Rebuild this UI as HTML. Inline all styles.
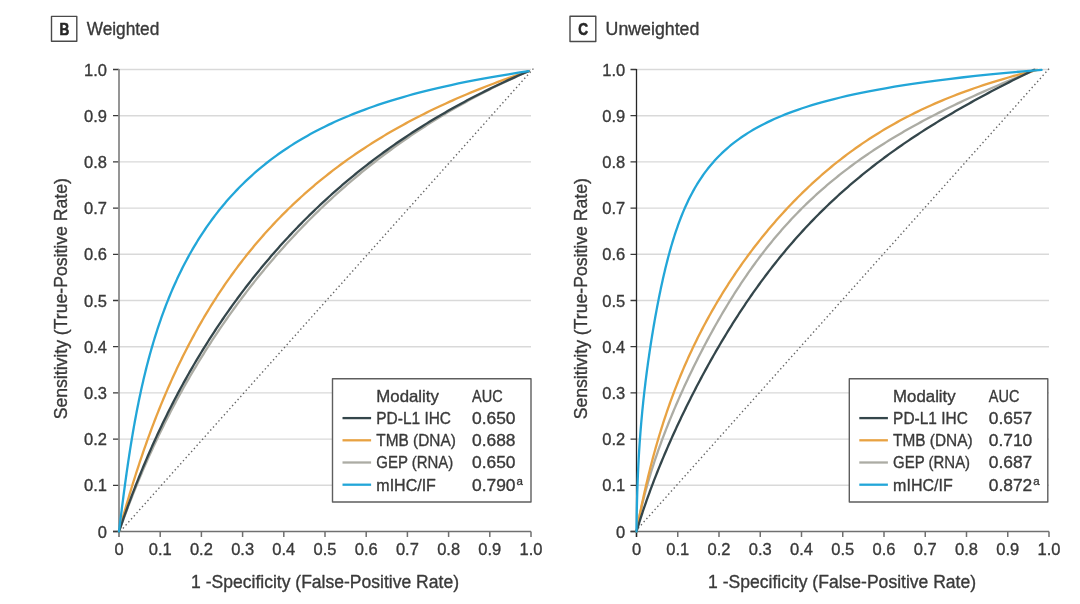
<!DOCTYPE html><html><head><meta charset="utf-8"><style>html,body{margin:0;padding:0;background:#fff;}svg{display:block;}text{stroke:#3a3a3a;stroke-width:0.35px;}</style></head><body>
<svg width="1080" height="604" viewBox="0 0 1080 604" font-family='"Liberation Sans", sans-serif' fill="#3a3a3a" style="will-change:transform">
<g stroke-linejoin="round">
<rect width="1080" height="604" fill="#fff"/>
<line x1="119" y1="485.30" x2="531" y2="485.30" stroke="#d9d9d9" stroke-width="1.4"/>
<line x1="119" y1="439.10" x2="531" y2="439.10" stroke="#d9d9d9" stroke-width="1.4"/>
<line x1="119" y1="392.90" x2="531" y2="392.90" stroke="#d9d9d9" stroke-width="1.4"/>
<line x1="119" y1="346.70" x2="531" y2="346.70" stroke="#d9d9d9" stroke-width="1.4"/>
<line x1="119" y1="300.50" x2="531" y2="300.50" stroke="#d9d9d9" stroke-width="1.4"/>
<line x1="119" y1="254.30" x2="531" y2="254.30" stroke="#d9d9d9" stroke-width="1.4"/>
<line x1="119" y1="208.10" x2="531" y2="208.10" stroke="#d9d9d9" stroke-width="1.4"/>
<line x1="119" y1="161.90" x2="531" y2="161.90" stroke="#d9d9d9" stroke-width="1.4"/>
<line x1="119" y1="115.70" x2="531" y2="115.70" stroke="#d9d9d9" stroke-width="1.4"/>
<line x1="119" y1="69.50" x2="531" y2="69.50" stroke="#d9d9d9" stroke-width="1.4"/>
<line x1="120.2" y1="531.5" x2="534.3" y2="67.6" stroke="#666" stroke-width="1.4" stroke-dasharray="1.4 2.7"/>
<path d="M113,531.5 L531,531.5" stroke="#707070" stroke-width="1.6" fill="none"/>
<path d="M119.00,531.5 L119.00,537.0 M160.20,531.5 L160.20,537.0 M201.40,531.5 L201.40,537.0 M242.60,531.5 L242.60,537.0 M283.80,531.5 L283.80,537.0 M325.00,531.5 L325.00,537.0 M366.20,531.5 L366.20,537.0 M407.40,531.5 L407.40,537.0 M448.60,531.5 L448.60,537.0 M489.80,531.5 L489.80,537.0 M531.00,531.5 L531.00,537.0" stroke="#707070" stroke-width="1.5" fill="none"/>
<path d="M113,531.50 L119,531.50 M113,485.30 L119,485.30 M113,439.10 L119,439.10 M113,392.90 L119,392.90 M113,346.70 L119,346.70 M113,300.50 L119,300.50 M113,254.30 L119,254.30 M113,208.10 L119,208.10 M113,161.90 L119,161.90 M113,115.70 L119,115.70 M113,69.50 L119,69.50" stroke="#3a3a3a" stroke-width="1.3" fill="none"/>
<path d="M119,68.9 L119,537.0" stroke="#8a8a8a" stroke-width="1.8" fill="none"/>
<path d="M119.00,531.50 L119.55,529.97 L120.10,528.43 L120.65,526.90 L121.20,525.36 L121.76,523.83 L122.32,522.29 L122.88,520.76 L123.44,519.23 L124.01,517.69 L124.57,516.16 L125.14,514.62 L125.72,513.09 L126.29,511.55 L126.87,510.02 L127.46,508.49 L128.04,506.95 L128.63,505.42 L129.22,503.88 L129.82,502.35 L130.41,500.81 L131.01,499.28 L131.62,497.74 L132.22,496.21 L132.83,494.68 L133.44,493.14 L134.06,491.61 L134.68,490.07 L135.30,488.54 L135.92,487.00 L136.55,485.47 L137.18,483.94 L137.81,482.40 L138.45,480.87 L139.09,479.33 L139.73,477.80 L140.38,476.26 L141.02,474.73 L141.68,473.20 L142.33,471.66 L142.99,470.13 L143.65,468.59 L144.32,467.06 L144.98,465.52 L145.65,463.99 L146.33,462.45 L147.01,460.92 L147.69,459.39 L148.37,457.85 L149.06,456.32 L149.75,454.78 L150.45,453.25 L151.15,451.71 L151.85,450.18 L152.55,448.65 L153.26,447.11 L153.97,445.58 L154.69,444.04 L155.41,442.51 L156.13,440.97 L156.86,439.44 L157.59,437.91 L158.32,436.37 L159.06,434.84 L159.80,433.30 L160.54,431.77 L161.29,430.23 L162.04,428.70 L162.79,427.17 L163.55,425.63 L164.32,424.10 L165.08,422.56 L165.85,421.03 L166.63,419.49 L167.41,417.96 L168.19,416.43 L168.97,414.89 L169.76,413.36 L170.56,411.82 L171.35,410.29 L172.15,408.75 L172.96,407.22 L173.77,405.68 L174.58,404.15 L175.40,402.62 L176.22,401.08 L177.04,399.55 L177.87,398.01 L178.71,396.48 L179.54,394.94 L180.39,393.41 L181.23,391.88 L182.08,390.34 L182.94,388.81 L183.79,387.27 L184.66,385.74 L185.52,384.20 L186.39,382.67 L187.27,381.14 L188.15,379.60 L189.03,378.07 L189.92,376.53 L190.82,375.00 L191.71,373.46 L192.61,371.93 L193.52,370.39 L194.43,368.86 L195.35,367.33 L196.27,365.79 L197.19,364.26 L198.12,362.72 L199.05,361.19 L199.99,359.65 L200.93,358.12 L201.88,356.59 L202.83,355.05 L203.79,353.52 L204.75,351.98 L205.72,350.45 L206.69,348.91 L207.67,347.38 L208.65,345.85 L209.63,344.31 L210.63,342.78 L211.62,341.24 L212.62,339.71 L213.63,338.17 L214.64,336.64 L215.66,335.11 L216.68,333.57 L217.70,332.04 L218.73,330.50 L219.77,328.97 L220.81,327.43 L221.86,325.90 L222.91,324.37 L223.97,322.83 L225.03,321.30 L226.10,319.76 L227.18,318.23 L228.25,316.69 L229.34,315.16 L230.43,313.62 L231.53,312.09 L232.63,310.56 L233.74,309.02 L234.85,307.49 L235.97,305.95 L237.09,304.42 L238.22,302.88 L239.36,301.35 L240.50,299.82 L241.65,298.28 L242.80,296.75 L243.96,295.21 L245.13,293.68 L246.30,292.14 L247.48,290.61 L248.66,289.08 L249.85,287.54 L251.05,286.01 L252.25,284.47 L253.46,282.94 L254.68,281.40 L255.90,279.87 L257.13,278.33 L258.36,276.80 L259.60,275.27 L260.85,273.73 L262.11,272.20 L263.37,270.66 L264.64,269.13 L265.91,267.59 L267.20,266.06 L268.49,264.53 L269.78,262.99 L271.09,261.46 L272.40,259.92 L273.71,258.39 L275.04,256.85 L276.37,255.32 L277.71,253.79 L279.06,252.25 L280.42,250.72 L281.78,249.18 L283.15,247.65 L284.53,246.11 L285.91,244.58 L287.31,243.05 L288.71,241.51 L290.12,239.98 L291.54,238.44 L292.96,236.91 L294.40,235.37 L295.84,233.84 L297.29,232.31 L298.75,230.77 L300.22,229.24 L301.70,227.70 L303.18,226.17 L304.68,224.63 L306.18,223.10 L307.69,221.56 L309.22,220.03 L310.75,218.50 L312.29,216.96 L313.84,215.43 L315.40,213.89 L316.97,212.36 L318.55,210.82 L320.14,209.29 L321.74,207.76 L323.34,206.22 L324.96,204.69 L326.59,203.15 L328.23,201.62 L329.89,200.08 L331.55,198.55 L333.22,197.02 L334.90,195.48 L336.60,193.95 L338.30,192.41 L340.02,190.88 L341.75,189.34 L343.49,187.81 L345.24,186.27 L347.01,184.74 L348.78,183.21 L350.57,181.67 L352.37,180.14 L354.19,178.60 L356.02,177.07 L357.86,175.53 L359.71,174.00 L361.57,172.47 L363.45,170.93 L365.35,169.40 L367.26,167.86 L369.18,166.33 L371.11,164.79 L373.06,163.26 L375.03,161.73 L377.01,160.19 L379.00,158.66 L381.01,157.12 L383.04,155.59 L385.08,154.05 L387.14,152.52 L389.22,150.99 L391.31,149.45 L393.42,147.92 L395.54,146.38 L397.68,144.85 L399.84,143.31 L402.02,141.78 L404.22,140.25 L406.43,138.71 L408.67,137.18 L410.92,135.64 L413.19,134.11 L415.49,132.57 L417.80,131.04 L420.13,129.50 L422.49,127.97 L424.86,126.44 L427.26,124.90 L429.68,123.37 L432.12,121.83 L434.58,120.30 L437.07,118.76 L439.58,117.23 L442.12,115.70 L444.67,114.16 L447.26,112.63 L449.87,111.09 L452.50,109.56 L455.17,108.02 L457.85,106.49 L460.57,104.96 L463.32,103.42 L466.09,101.89 L468.89,100.35 L471.72,98.82 L474.58,97.28 L477.48,95.75 L480.40,94.22 L483.36,92.68 L486.34,91.15 L489.37,89.61 L492.42,88.08 L495.52,86.54 L498.64,85.01 L501.81,83.47 L505.01,81.94 L508.25,80.41 L511.52,78.87 L514.84,77.34 L518.20,75.80 L521.60,74.27 L525.04,72.73 L528.53,71.20" stroke="#acaca4" stroke-width="2.3" fill="none" stroke-linejoin="round" stroke-linecap="round"/>
<path d="M119.00,531.50 L119.41,529.97 L119.83,528.43 L120.25,526.90 L120.67,525.36 L121.09,523.83 L121.52,522.29 L121.94,520.76 L122.37,519.23 L122.80,517.69 L123.23,516.16 L123.67,514.62 L124.10,513.09 L124.54,511.55 L124.98,510.02 L125.42,508.49 L125.86,506.95 L126.31,505.42 L126.76,503.88 L127.21,502.35 L127.66,500.81 L128.11,499.28 L128.57,497.74 L129.02,496.21 L129.48,494.68 L129.95,493.14 L130.41,491.61 L130.88,490.07 L131.34,488.54 L131.82,487.00 L132.29,485.47 L132.76,483.94 L133.24,482.40 L133.72,480.87 L134.20,479.33 L134.69,477.80 L135.18,476.26 L135.67,474.73 L136.16,473.20 L136.65,471.66 L137.15,470.13 L137.65,468.59 L138.15,467.06 L138.65,465.52 L139.16,463.99 L139.67,462.45 L140.18,460.92 L140.70,459.39 L141.22,457.85 L141.74,456.32 L142.26,454.78 L142.79,453.25 L143.32,451.71 L143.85,450.18 L144.38,448.65 L144.92,447.11 L145.46,445.58 L146.00,444.04 L146.55,442.51 L147.10,440.97 L147.65,439.44 L148.21,437.91 L148.76,436.37 L149.32,434.84 L149.89,433.30 L150.46,431.77 L151.03,430.23 L151.60,428.70 L152.18,427.17 L152.76,425.63 L153.34,424.10 L153.93,422.56 L154.52,421.03 L155.11,419.49 L155.71,417.96 L156.31,416.43 L156.91,414.89 L157.52,413.36 L158.13,411.82 L158.75,410.29 L159.36,408.75 L159.99,407.22 L160.61,405.68 L161.24,404.15 L161.87,402.62 L162.51,401.08 L163.15,399.55 L163.79,398.01 L164.44,396.48 L165.09,394.94 L165.75,393.41 L166.41,391.88 L167.07,390.34 L167.74,388.81 L168.41,387.27 L169.09,385.74 L169.77,384.20 L170.45,382.67 L171.14,381.14 L171.83,379.60 L172.53,378.07 L173.23,376.53 L173.94,375.00 L174.65,373.46 L175.36,371.93 L176.08,370.39 L176.80,368.86 L177.53,367.33 L178.26,365.79 L179.00,364.26 L179.74,362.72 L180.49,361.19 L181.24,359.65 L182.00,358.12 L182.76,356.59 L183.52,355.05 L184.29,353.52 L185.07,351.98 L185.85,350.45 L186.64,348.91 L187.43,347.38 L188.22,345.85 L189.03,344.31 L189.83,342.78 L190.65,341.24 L191.46,339.71 L192.29,338.17 L193.12,336.64 L193.95,335.11 L194.79,333.57 L195.64,332.04 L196.49,330.50 L197.34,328.97 L198.21,327.43 L199.07,325.90 L199.95,324.37 L200.83,322.83 L201.72,321.30 L202.61,319.76 L203.51,318.23 L204.41,316.69 L205.33,315.16 L206.24,313.62 L207.17,312.09 L208.10,310.56 L209.04,309.02 L209.98,307.49 L210.93,305.95 L211.89,304.42 L212.85,302.88 L213.82,301.35 L214.80,299.82 L215.79,298.28 L216.78,296.75 L217.78,295.21 L218.78,293.68 L219.80,292.14 L220.82,290.61 L221.85,289.08 L222.88,287.54 L223.93,286.01 L224.98,284.47 L226.04,282.94 L227.11,281.40 L228.18,279.87 L229.27,278.33 L230.36,276.80 L231.46,275.27 L232.57,273.73 L233.68,272.20 L234.81,270.66 L235.94,269.13 L237.08,267.59 L238.23,266.06 L239.39,264.53 L240.56,262.99 L241.74,261.46 L242.93,259.92 L244.13,258.39 L245.33,256.85 L246.55,255.32 L247.77,253.79 L249.01,252.25 L250.25,250.72 L251.51,249.18 L252.77,247.65 L254.05,246.11 L255.33,244.58 L256.63,243.05 L257.94,241.51 L259.26,239.98 L260.58,238.44 L261.92,236.91 L263.27,235.37 L264.64,233.84 L266.01,232.31 L267.39,230.77 L268.79,229.24 L270.20,227.70 L271.62,226.17 L273.05,224.63 L274.50,223.10 L275.95,221.56 L277.42,220.03 L278.91,218.50 L280.40,216.96 L281.91,215.43 L283.43,213.89 L284.97,212.36 L286.52,210.82 L288.08,209.29 L289.66,207.76 L291.25,206.22 L292.86,204.69 L294.48,203.15 L296.11,201.62 L297.76,200.08 L299.43,198.55 L301.11,197.02 L302.81,195.48 L304.52,193.95 L306.25,192.41 L308.00,190.88 L309.76,189.34 L311.54,187.81 L313.33,186.27 L315.15,184.74 L316.98,183.21 L318.83,181.67 L320.70,180.14 L322.58,178.60 L324.49,177.07 L326.41,175.53 L328.36,174.00 L330.32,172.47 L332.30,170.93 L334.31,169.40 L336.33,167.86 L338.38,166.33 L340.45,164.79 L342.53,163.26 L344.65,161.73 L346.78,160.19 L348.93,158.66 L351.11,157.12 L353.32,155.59 L355.54,154.05 L357.79,152.52 L360.07,150.99 L362.37,149.45 L364.70,147.92 L367.05,146.38 L369.43,144.85 L371.84,143.31 L374.28,141.78 L376.74,140.25 L379.23,138.71 L381.75,137.18 L384.30,135.64 L386.88,134.11 L389.49,132.57 L392.14,131.04 L394.81,129.50 L397.52,127.97 L400.26,126.44 L403.04,124.90 L405.85,123.37 L408.69,121.83 L411.58,120.30 L414.50,118.76 L417.45,117.23 L420.45,115.70 L423.48,114.16 L426.55,112.63 L429.67,111.09 L432.83,109.56 L436.03,108.02 L439.27,106.49 L442.56,104.96 L445.89,103.42 L449.27,101.89 L452.70,100.35 L456.17,98.82 L459.70,97.28 L463.27,95.75 L466.90,94.22 L470.58,92.68 L474.32,91.15 L478.11,89.61 L481.96,88.08 L485.87,86.54 L489.84,85.01 L493.87,83.47 L497.96,81.94 L502.12,80.41 L506.35,78.87 L510.64,77.34 L515.00,75.80 L519.44,74.27 L523.94,72.73 L528.53,71.20" stroke="#e8a242" stroke-width="2.3" fill="none" stroke-linejoin="round" stroke-linecap="round"/>
<path d="M119.00,531.50 L119.52,529.97 L120.04,528.43 L120.57,526.90 L121.09,525.36 L121.62,523.83 L122.15,522.29 L122.69,520.76 L123.22,519.23 L123.76,517.69 L124.30,516.16 L124.84,514.62 L125.38,513.09 L125.93,511.55 L126.49,510.02 L127.04,508.49 L127.60,506.95 L128.16,505.42 L128.73,503.88 L129.29,502.35 L129.86,500.81 L130.43,499.28 L131.01,497.74 L131.59,496.21 L132.17,494.68 L132.75,493.14 L133.34,491.61 L133.93,490.07 L134.52,488.54 L135.12,487.00 L135.72,485.47 L136.32,483.94 L136.93,482.40 L137.54,480.87 L138.15,479.33 L138.76,477.80 L139.38,476.26 L140.00,474.73 L140.63,473.20 L141.25,471.66 L141.88,470.13 L142.52,468.59 L143.15,467.06 L143.79,465.52 L144.44,463.99 L145.08,462.45 L145.73,460.92 L146.39,459.39 L147.04,457.85 L147.70,456.32 L148.37,454.78 L149.03,453.25 L149.70,451.71 L150.38,450.18 L151.05,448.65 L151.74,447.11 L152.42,445.58 L153.11,444.04 L153.80,442.51 L154.49,440.97 L155.19,439.44 L155.89,437.91 L156.60,436.37 L157.31,434.84 L158.02,433.30 L158.73,431.77 L159.45,430.23 L160.18,428.70 L160.90,427.17 L161.64,425.63 L162.37,424.10 L163.11,422.56 L163.85,421.03 L164.60,419.49 L165.35,417.96 L166.10,416.43 L166.86,414.89 L167.62,413.36 L168.38,411.82 L169.15,410.29 L169.92,408.75 L170.70,407.22 L171.48,405.68 L172.27,404.15 L173.06,402.62 L173.85,401.08 L174.65,399.55 L175.45,398.01 L176.25,396.48 L177.06,394.94 L177.88,393.41 L178.69,391.88 L179.52,390.34 L180.34,388.81 L181.17,387.27 L182.01,385.74 L182.85,384.20 L183.69,382.67 L184.54,381.14 L185.39,379.60 L186.25,378.07 L187.11,376.53 L187.97,375.00 L188.84,373.46 L189.72,371.93 L190.60,370.39 L191.48,368.86 L192.37,367.33 L193.26,365.79 L194.16,364.26 L195.06,362.72 L195.97,361.19 L196.88,359.65 L197.79,358.12 L198.71,356.59 L199.64,355.05 L200.57,353.52 L201.51,351.98 L202.45,350.45 L203.39,348.91 L204.34,347.38 L205.30,345.85 L206.26,344.31 L207.22,342.78 L208.19,341.24 L209.17,339.71 L210.15,338.17 L211.13,336.64 L212.13,335.11 L213.12,333.57 L214.12,332.04 L215.13,330.50 L216.14,328.97 L217.16,327.43 L218.18,325.90 L219.21,324.37 L220.25,322.83 L221.29,321.30 L222.33,319.76 L223.38,318.23 L224.44,316.69 L225.50,315.16 L226.57,313.62 L227.64,312.09 L228.72,310.56 L229.81,309.02 L230.90,307.49 L232.00,305.95 L233.10,304.42 L234.21,302.88 L235.32,301.35 L236.45,299.82 L237.57,298.28 L238.71,296.75 L239.85,295.21 L240.99,293.68 L242.15,292.14 L243.31,290.61 L244.47,289.08 L245.65,287.54 L246.82,286.01 L248.01,284.47 L249.20,282.94 L250.40,281.40 L251.61,279.87 L252.82,278.33 L254.04,276.80 L255.27,275.27 L256.50,273.73 L257.74,272.20 L258.99,270.66 L260.24,269.13 L261.50,267.59 L262.77,266.06 L264.05,264.53 L265.33,262.99 L266.63,261.46 L267.93,259.92 L269.23,258.39 L270.55,256.85 L271.87,255.32 L273.20,253.79 L274.54,252.25 L275.89,250.72 L277.24,249.18 L278.60,247.65 L279.97,246.11 L281.35,244.58 L282.74,243.05 L284.14,241.51 L285.54,239.98 L286.96,238.44 L288.38,236.91 L289.81,235.37 L291.25,233.84 L292.70,232.31 L294.16,230.77 L295.62,229.24 L297.10,227.70 L298.58,226.17 L300.08,224.63 L301.59,223.10 L303.10,221.56 L304.62,220.03 L306.16,218.50 L307.70,216.96 L309.26,215.43 L310.82,213.89 L312.40,212.36 L313.98,210.82 L315.58,209.29 L317.19,207.76 L318.80,206.22 L320.43,204.69 L322.07,203.15 L323.72,201.62 L325.39,200.08 L327.06,198.55 L328.74,197.02 L330.44,195.48 L332.15,193.95 L333.87,192.41 L335.61,190.88 L337.35,189.34 L339.11,187.81 L340.88,186.27 L342.66,184.74 L344.46,183.21 L346.27,181.67 L348.09,180.14 L349.93,178.60 L351.78,177.07 L353.65,175.53 L355.52,174.00 L357.42,172.47 L359.32,170.93 L361.25,169.40 L363.18,167.86 L365.14,166.33 L367.10,164.79 L369.08,163.26 L371.08,161.73 L373.10,160.19 L375.13,158.66 L377.17,157.12 L379.24,155.59 L381.32,154.05 L383.42,152.52 L385.53,150.99 L387.66,149.45 L389.81,147.92 L391.98,146.38 L394.17,144.85 L396.37,143.31 L398.60,141.78 L400.84,140.25 L403.11,138.71 L405.39,137.18 L407.70,135.64 L410.02,134.11 L412.37,132.57 L414.73,131.04 L417.12,129.50 L419.53,127.97 L421.97,126.44 L424.42,124.90 L426.90,123.37 L429.40,121.83 L431.93,120.30 L434.48,118.76 L437.06,117.23 L439.66,115.70 L442.29,114.16 L444.94,112.63 L447.62,111.09 L450.33,109.56 L453.06,108.02 L455.82,106.49 L458.61,104.96 L461.43,103.42 L464.28,101.89 L467.16,100.35 L470.08,98.82 L473.02,97.28 L475.99,95.75 L479.00,94.22 L482.04,92.68 L485.12,91.15 L488.23,89.61 L491.37,88.08 L494.55,86.54 L497.77,85.01 L501.03,83.47 L504.32,81.94 L507.66,80.41 L511.03,78.87 L514.44,77.34 L517.90,75.80 L521.40,74.27 L524.94,72.73 L528.53,71.20" stroke="#34464b" stroke-width="2.3" fill="none" stroke-linejoin="round" stroke-linecap="round"/>
<path d="M119.00,531.50 L119.18,529.97 L119.37,528.43 L119.56,526.90 L119.74,525.36 L119.93,523.83 L120.12,522.29 L120.31,520.76 L120.50,519.23 L120.70,517.69 L120.89,516.16 L121.09,514.62 L121.28,513.09 L121.48,511.55 L121.67,510.02 L121.86,508.49 L122.06,506.95 L122.25,505.42 L122.45,503.88 L122.65,502.35 L122.85,500.81 L123.05,499.28 L123.25,497.74 L123.45,496.21 L123.65,494.68 L123.85,493.14 L124.05,491.61 L124.26,490.07 L124.46,488.54 L124.67,487.00 L124.88,485.47 L125.08,483.94 L125.29,482.40 L125.50,480.87 L125.72,479.33 L125.93,477.80 L126.14,476.26 L126.36,474.73 L126.58,473.20 L126.79,471.66 L127.01,470.13 L127.23,468.59 L127.46,467.06 L127.68,465.52 L127.91,463.99 L128.13,462.45 L128.36,460.92 L128.59,459.39 L128.82,457.85 L129.05,456.32 L129.29,454.78 L129.53,453.25 L129.76,451.71 L130.00,450.18 L130.25,448.65 L130.49,447.11 L130.73,445.58 L130.98,444.04 L131.23,442.51 L131.48,440.97 L131.73,439.44 L131.99,437.91 L132.25,436.37 L132.50,434.84 L132.77,433.30 L133.03,431.77 L133.29,430.23 L133.56,428.70 L133.83,427.17 L134.10,425.63 L134.38,424.10 L134.66,422.56 L134.93,421.03 L135.22,419.49 L135.50,417.96 L135.79,416.43 L136.08,414.89 L136.37,413.36 L136.66,411.82 L136.96,410.29 L137.26,408.75 L137.56,407.22 L137.86,405.68 L138.17,404.15 L138.48,402.62 L138.80,401.08 L139.11,399.55 L139.43,398.01 L139.75,396.48 L140.08,394.94 L140.41,393.41 L140.74,391.88 L141.07,390.34 L141.41,388.81 L141.75,387.27 L142.09,385.74 L142.44,384.20 L142.79,382.67 L143.15,381.14 L143.50,379.60 L143.87,378.07 L144.23,376.53 L144.60,375.00 L144.97,373.46 L145.34,371.93 L145.72,370.39 L146.11,368.86 L146.49,367.33 L146.88,365.79 L147.28,364.26 L147.68,362.72 L148.08,361.19 L148.49,359.65 L148.90,358.12 L149.31,356.59 L149.73,355.05 L150.15,353.52 L150.58,351.98 L151.01,350.45 L151.45,348.91 L151.89,347.38 L152.34,345.85 L152.79,344.31 L153.24,342.78 L153.70,341.24 L154.16,339.71 L154.63,338.17 L155.11,336.64 L155.58,335.11 L156.07,333.57 L156.56,332.04 L157.05,330.50 L157.55,328.97 L158.05,327.43 L158.56,325.90 L159.08,324.37 L159.60,322.83 L160.12,321.30 L160.66,319.76 L161.19,318.23 L161.74,316.69 L162.28,315.16 L162.84,313.62 L163.40,312.09 L163.97,310.56 L164.54,309.02 L165.12,307.49 L165.70,305.95 L166.29,304.42 L166.89,302.88 L167.50,301.35 L168.11,299.82 L168.73,298.28 L169.35,296.75 L169.98,295.21 L170.62,293.68 L171.26,292.14 L171.92,290.61 L172.58,289.08 L173.24,287.54 L173.92,286.01 L174.60,284.47 L175.29,282.94 L175.99,281.40 L176.69,279.87 L177.40,278.33 L178.12,276.80 L178.85,275.27 L179.59,273.73 L180.34,272.20 L181.09,270.66 L181.85,269.13 L182.62,267.59 L183.40,266.06 L184.19,264.53 L184.99,262.99 L185.80,261.46 L186.62,259.92 L187.44,258.39 L188.28,256.85 L189.12,255.32 L189.98,253.79 L190.84,252.25 L191.72,250.72 L192.61,249.18 L193.50,247.65 L194.41,246.11 L195.33,244.58 L196.26,243.05 L197.20,241.51 L198.15,239.98 L199.11,238.44 L200.09,236.91 L201.08,235.37 L202.08,233.84 L203.09,232.31 L204.11,230.77 L205.15,229.24 L206.20,227.70 L207.26,226.17 L208.34,224.63 L209.43,223.10 L210.54,221.56 L211.66,220.03 L212.79,218.50 L213.94,216.96 L215.10,215.43 L216.28,213.89 L217.47,212.36 L218.68,210.82 L219.91,209.29 L221.15,207.76 L222.41,206.22 L223.69,204.69 L224.98,203.15 L226.29,201.62 L227.63,200.08 L228.97,198.55 L230.34,197.02 L231.73,195.48 L233.14,193.95 L234.57,192.41 L236.01,190.88 L237.48,189.34 L238.97,187.81 L240.49,186.27 L242.03,184.74 L243.58,183.21 L245.17,181.67 L246.78,180.14 L248.41,178.60 L250.07,177.07 L251.75,175.53 L253.46,174.00 L255.20,172.47 L256.97,170.93 L258.77,169.40 L260.60,167.86 L262.45,166.33 L264.34,164.79 L266.26,163.26 L268.22,161.73 L270.21,160.19 L272.23,158.66 L274.29,157.12 L276.39,155.59 L278.53,154.05 L280.70,152.52 L282.92,150.99 L285.18,149.45 L287.48,147.92 L289.83,146.38 L292.22,144.85 L294.66,143.31 L297.16,141.78 L299.70,140.25 L302.29,138.71 L304.94,137.18 L307.65,135.64 L310.42,134.11 L313.24,132.57 L316.13,131.04 L319.09,129.50 L322.11,127.97 L325.21,126.44 L328.38,124.90 L331.62,123.37 L334.95,121.83 L338.35,120.30 L341.85,118.76 L345.43,117.23 L349.11,115.70 L352.88,114.16 L356.76,112.63 L360.74,111.09 L364.84,109.56 L369.05,108.02 L373.39,106.49 L377.86,104.96 L382.46,103.42 L387.20,101.89 L392.09,100.35 L397.14,98.82 L402.35,97.28 L407.74,95.75 L413.31,94.22 L419.08,92.68 L425.05,91.15 L431.24,89.61 L437.66,88.08 L444.32,86.54 L451.25,85.01 L458.45,83.47 L465.94,81.94 L473.75,80.41 L481.89,78.87 L490.39,77.34 L499.28,75.80 L508.57,74.27 L518.31,72.73 L528.53,71.20" stroke="#22a6d8" stroke-width="2.3" fill="none" stroke-linejoin="round" stroke-linecap="round"/>
<rect x="332.5" y="378.7" width="198.5" height="123.3" fill="#fff" stroke="#5e5e5e" stroke-width="1.4"/>
<text x="376.3" y="401.5" font-size="16.5" textLength="62.6" lengthAdjust="spacingAndGlyphs">Modality</text>
<text x="472.0" y="401.5" font-size="16.5" textLength="30.6" lengthAdjust="spacingAndGlyphs">AUC</text>
<line x1="342.5" y1="418.10" x2="371.1" y2="418.10" stroke="#34464b" stroke-width="2.3"/>
<text x="376.3" y="424.00" font-size="16.5" textLength="74.7" lengthAdjust="spacingAndGlyphs">PD-L1 IHC</text>
<text x="472.0" y="424.00" font-size="16.5" textLength="43.5" lengthAdjust="spacingAndGlyphs">0.650</text>
<line x1="342.5" y1="440.30" x2="371.1" y2="440.30" stroke="#e8a242" stroke-width="2.3"/>
<text x="376.3" y="446.20" font-size="16.5" textLength="79.5" lengthAdjust="spacingAndGlyphs">TMB (DNA)</text>
<text x="472.0" y="446.20" font-size="16.5" textLength="43.5" lengthAdjust="spacingAndGlyphs">0.688</text>
<line x1="342.5" y1="462.50" x2="371.1" y2="462.50" stroke="#acaca4" stroke-width="2.3"/>
<text x="376.3" y="468.40" font-size="16.5" textLength="77" lengthAdjust="spacingAndGlyphs">GEP (RNA)</text>
<text x="472.0" y="468.40" font-size="16.5" textLength="43.5" lengthAdjust="spacingAndGlyphs">0.650</text>
<line x1="342.5" y1="484.70" x2="371.1" y2="484.70" stroke="#22a6d8" stroke-width="2.3"/>
<text x="376.3" y="490.60" font-size="16.5" textLength="59.6" lengthAdjust="spacingAndGlyphs">mIHC/IF</text>
<text x="472.0" y="490.60" font-size="16.5" textLength="43.5" lengthAdjust="spacingAndGlyphs">0.790</text><text x="516.5" y="485.00" font-size="11.5">a</text>
<text x="107.0" y="537.50" font-size="16.5" text-anchor="end">0</text>
<text x="119.00" y="554.8" font-size="16.5" text-anchor="middle">0</text>
<text x="107.0" y="491.30" font-size="16.5" text-anchor="end">0.1</text>
<text x="160.20" y="554.8" font-size="16.5" text-anchor="middle">0.1</text>
<text x="107.0" y="445.10" font-size="16.5" text-anchor="end">0.2</text>
<text x="201.40" y="554.8" font-size="16.5" text-anchor="middle">0.2</text>
<text x="107.0" y="398.90" font-size="16.5" text-anchor="end">0.3</text>
<text x="242.60" y="554.8" font-size="16.5" text-anchor="middle">0.3</text>
<text x="107.0" y="352.70" font-size="16.5" text-anchor="end">0.4</text>
<text x="283.80" y="554.8" font-size="16.5" text-anchor="middle">0.4</text>
<text x="107.0" y="306.50" font-size="16.5" text-anchor="end">0.5</text>
<text x="325.00" y="554.8" font-size="16.5" text-anchor="middle">0.5</text>
<text x="107.0" y="260.30" font-size="16.5" text-anchor="end">0.6</text>
<text x="366.20" y="554.8" font-size="16.5" text-anchor="middle">0.6</text>
<text x="107.0" y="214.10" font-size="16.5" text-anchor="end">0.7</text>
<text x="407.40" y="554.8" font-size="16.5" text-anchor="middle">0.7</text>
<text x="107.0" y="167.90" font-size="16.5" text-anchor="end">0.8</text>
<text x="448.60" y="554.8" font-size="16.5" text-anchor="middle">0.8</text>
<text x="107.0" y="121.70" font-size="16.5" text-anchor="end">0.9</text>
<text x="489.80" y="554.8" font-size="16.5" text-anchor="middle">0.9</text>
<text x="107.0" y="75.50" font-size="16.5" text-anchor="end">1.0</text>
<text x="531.00" y="554.8" font-size="16.5" text-anchor="middle">1.0</text>
<text x="0" y="0" font-size="18" text-anchor="middle" textLength="241.2" lengthAdjust="spacingAndGlyphs" transform="translate(67.3,298.75) rotate(-90)">Sensitivity (True-Positive Rate)</text>
<text x="191.1" y="587.8" font-size="18" textLength="267.9" lengthAdjust="spacingAndGlyphs">1 -Specificity (False-Positive Rate)</text>
<rect x="51.5" y="16.4" width="25.3" height="24.9" fill="none" stroke="#4a4a4a" stroke-width="1.4"/>
<text transform="translate(64.45,34.7) scale(0.84,1)" x="0" y="0" font-size="16.2" text-anchor="middle" font-weight="bold" fill="#262626" style="stroke:#262626;stroke-width:0.6px">B</text>
<text x="86.7" y="34.9" font-size="17.5" textLength="72.6" lengthAdjust="spacingAndGlyphs">Weighted</text>
<line x1="636.5" y1="485.30" x2="1049" y2="485.30" stroke="#d9d9d9" stroke-width="1.4"/>
<line x1="636.5" y1="439.10" x2="1049" y2="439.10" stroke="#d9d9d9" stroke-width="1.4"/>
<line x1="636.5" y1="392.90" x2="1049" y2="392.90" stroke="#d9d9d9" stroke-width="1.4"/>
<line x1="636.5" y1="346.70" x2="1049" y2="346.70" stroke="#d9d9d9" stroke-width="1.4"/>
<line x1="636.5" y1="300.50" x2="1049" y2="300.50" stroke="#d9d9d9" stroke-width="1.4"/>
<line x1="636.5" y1="254.30" x2="1049" y2="254.30" stroke="#d9d9d9" stroke-width="1.4"/>
<line x1="636.5" y1="208.10" x2="1049" y2="208.10" stroke="#d9d9d9" stroke-width="1.4"/>
<line x1="636.5" y1="161.90" x2="1049" y2="161.90" stroke="#d9d9d9" stroke-width="1.4"/>
<line x1="636.5" y1="115.70" x2="1049" y2="115.70" stroke="#d9d9d9" stroke-width="1.4"/>
<line x1="636.5" y1="69.50" x2="1049" y2="69.50" stroke="#d9d9d9" stroke-width="1.4"/>
<line x1="635.5" y1="531.3" x2="1050.2" y2="67.4" stroke="#666" stroke-width="1.4" stroke-dasharray="1.4 2.7"/>
<path d="M630.5,531.5 L1049,531.5" stroke="#707070" stroke-width="1.6" fill="none"/>
<path d="M636.50,531.5 L636.50,537.0 M677.75,531.5 L677.75,537.0 M719.00,531.5 L719.00,537.0 M760.25,531.5 L760.25,537.0 M801.50,531.5 L801.50,537.0 M842.75,531.5 L842.75,537.0 M884.00,531.5 L884.00,537.0 M925.25,531.5 L925.25,537.0 M966.50,531.5 L966.50,537.0 M1007.75,531.5 L1007.75,537.0 M1049.00,531.5 L1049.00,537.0" stroke="#707070" stroke-width="1.5" fill="none"/>
<path d="M630.5,531.50 L636.5,531.50 M630.5,485.30 L636.5,485.30 M630.5,439.10 L636.5,439.10 M630.5,392.90 L636.5,392.90 M630.5,346.70 L636.5,346.70 M630.5,300.50 L636.5,300.50 M630.5,254.30 L636.5,254.30 M630.5,208.10 L636.5,208.10 M630.5,161.90 L636.5,161.90 M630.5,115.70 L636.5,115.70 M630.5,69.50 L636.5,69.50" stroke="#3a3a3a" stroke-width="1.3" fill="none"/>
<path d="M636.5,68.9 L636.5,537.0" stroke="#262626" stroke-width="1.3" fill="none"/>
<path d="M636.50,531.50 L636.80,529.96 L637.10,528.42 L637.40,526.88 L637.71,525.34 L638.01,523.80 L638.32,522.27 L638.63,520.73 L638.94,519.19 L639.25,517.65 L639.56,516.11 L639.88,514.57 L640.20,513.03 L640.54,511.49 L640.89,509.95 L641.24,508.42 L641.60,506.88 L641.96,505.34 L642.33,503.80 L642.71,502.26 L643.09,500.72 L643.47,499.18 L643.86,497.64 L644.26,496.10 L644.66,494.56 L645.06,493.02 L645.47,491.49 L645.89,489.95 L646.31,488.41 L646.74,486.87 L647.17,485.33 L647.61,483.79 L648.05,482.25 L648.49,480.71 L648.94,479.17 L649.40,477.63 L649.86,476.10 L650.33,474.56 L650.80,473.02 L651.27,471.48 L651.76,469.94 L652.24,468.40 L652.73,466.86 L653.23,465.32 L653.73,463.78 L654.23,462.25 L654.74,460.71 L655.25,459.17 L655.77,457.63 L656.30,456.09 L656.82,454.55 L657.36,453.01 L657.89,451.47 L658.43,449.93 L658.98,448.39 L659.53,446.86 L660.08,445.32 L660.64,443.78 L661.20,442.24 L661.77,440.70 L662.34,439.16 L662.92,437.62 L663.50,436.08 L664.08,434.54 L664.67,433.00 L665.27,431.47 L665.86,429.93 L666.46,428.39 L667.07,426.85 L667.68,425.31 L668.29,423.77 L668.91,422.23 L669.53,420.69 L670.16,419.15 L670.79,417.61 L671.42,416.07 L672.06,414.54 L672.70,413.00 L673.34,411.46 L673.99,409.92 L674.64,408.38 L675.30,406.84 L675.96,405.30 L676.62,403.76 L677.29,402.22 L677.96,400.69 L678.64,399.15 L679.32,397.61 L680.00,396.07 L680.69,394.53 L681.38,392.99 L682.07,391.45 L682.77,389.91 L683.47,388.37 L684.17,386.83 L684.88,385.30 L685.60,383.76 L686.31,382.22 L687.03,380.68 L687.76,379.14 L688.48,377.60 L689.21,376.06 L689.95,374.52 L690.69,372.98 L691.43,371.44 L692.17,369.90 L692.92,368.37 L693.68,366.83 L694.43,365.29 L695.20,363.75 L695.96,362.21 L696.73,360.67 L697.50,359.13 L698.28,357.59 L699.06,356.05 L699.84,354.51 L700.63,352.98 L701.42,351.44 L702.22,349.90 L703.02,348.36 L703.82,346.82 L704.63,345.28 L705.44,343.74 L706.26,342.20 L707.08,340.66 L707.90,339.12 L708.73,337.59 L709.57,336.05 L710.40,334.51 L711.25,332.97 L712.09,331.43 L712.94,329.89 L713.80,328.35 L714.66,326.81 L715.52,325.27 L716.39,323.74 L717.27,322.20 L718.15,320.66 L719.03,319.12 L719.92,317.58 L720.81,316.04 L721.71,314.50 L722.62,312.96 L723.53,311.42 L724.44,309.88 L725.36,308.35 L726.28,306.81 L727.22,305.27 L728.15,303.73 L729.09,302.19 L730.04,300.65 L731.00,299.11 L731.96,297.57 L732.92,296.03 L733.89,294.49 L734.87,292.95 L735.86,291.42 L736.85,289.88 L737.84,288.34 L738.85,286.80 L739.86,285.26 L740.87,283.72 L741.90,282.18 L742.93,280.64 L743.97,279.10 L745.01,277.56 L746.07,276.03 L747.13,274.49 L748.20,272.95 L749.27,271.41 L750.36,269.87 L751.45,268.33 L752.55,266.79 L753.66,265.25 L754.77,263.71 L755.90,262.18 L757.03,260.64 L758.18,259.10 L759.33,257.56 L760.49,256.02 L761.66,254.48 L762.84,252.94 L764.03,251.40 L765.23,249.86 L766.44,248.32 L767.66,246.78 L768.89,245.25 L770.13,243.71 L771.38,242.17 L772.64,240.63 L773.91,239.09 L775.19,237.55 L776.49,236.01 L777.80,234.47 L779.12,232.93 L780.45,231.39 L781.79,229.86 L783.14,228.32 L784.51,226.78 L785.89,225.24 L787.28,223.70 L788.69,222.16 L790.11,220.62 L791.54,219.08 L792.99,217.54 L794.45,216.00 L795.93,214.47 L797.42,212.93 L798.92,211.39 L800.44,209.85 L801.98,208.31 L803.53,206.77 L805.10,205.23 L806.68,203.69 L808.28,202.15 L809.89,200.62 L811.53,199.08 L813.17,197.54 L814.84,196.00 L816.52,194.46 L818.23,192.92 L819.95,191.38 L821.68,189.84 L823.44,188.30 L825.22,186.76 L827.01,185.23 L828.83,183.69 L830.66,182.15 L832.52,180.61 L834.39,179.07 L836.29,177.53 L838.20,175.99 L840.14,174.45 L842.10,172.91 L844.08,171.37 L846.08,169.84 L848.11,168.30 L850.16,166.76 L852.23,165.22 L854.33,163.68 L856.44,162.14 L858.59,160.60 L860.75,159.06 L862.95,157.52 L865.16,155.98 L867.40,154.44 L869.67,152.91 L871.96,151.37 L874.28,149.83 L876.63,148.29 L879.00,146.75 L881.40,145.21 L883.83,143.67 L886.28,142.13 L888.76,140.59 L891.27,139.06 L893.81,137.52 L896.38,135.98 L898.98,134.44 L901.60,132.90 L904.26,131.36 L906.94,129.82 L909.66,128.28 L912.40,126.74 L915.18,125.20 L917.98,123.67 L920.82,122.13 L923.68,120.59 L926.58,119.05 L929.51,117.51 L932.47,115.97 L935.47,114.43 L938.49,112.89 L941.55,111.35 L944.64,109.81 L947.76,108.28 L950.91,106.74 L954.09,105.20 L957.31,103.66 L960.56,102.12 L963.84,100.58 L967.15,99.04 L970.49,97.50 L973.87,95.96 L977.27,94.42 L980.71,92.89 L984.18,91.35 L987.68,89.81 L991.21,88.27 L994.77,86.73 L998.36,85.19 L1001.98,83.65 L1005.63,82.11 L1009.30,80.57 L1013.01,79.03 L1016.74,77.50 L1020.50,75.96 L1024.29,74.42 L1028.10,72.88 L1031.94,71.34 L1035.80,69.80" stroke="#acaca4" stroke-width="2.3" fill="none" stroke-linejoin="round" stroke-linecap="round"/>
<path d="M636.50,531.50 L636.79,529.96 L637.08,528.42 L637.37,526.88 L637.67,525.34 L637.96,523.80 L638.26,522.27 L638.56,520.73 L638.86,519.19 L639.16,517.65 L639.47,516.11 L639.77,514.57 L640.08,513.03 L640.39,511.49 L640.71,509.95 L641.02,508.42 L641.34,506.88 L641.66,505.34 L641.99,503.80 L642.31,502.26 L642.64,500.72 L642.98,499.18 L643.31,497.64 L643.65,496.10 L643.99,494.56 L644.33,493.02 L644.67,491.49 L645.02,489.95 L645.37,488.41 L645.72,486.87 L646.08,485.33 L646.44,483.79 L646.80,482.25 L647.16,480.71 L647.53,479.17 L647.90,477.63 L648.27,476.10 L648.65,474.56 L649.03,473.02 L649.41,471.48 L649.79,469.94 L650.18,468.40 L650.57,466.86 L650.97,465.32 L651.36,463.78 L651.77,462.25 L652.17,460.71 L652.58,459.17 L652.99,457.63 L653.40,456.09 L653.82,454.55 L654.24,453.01 L654.67,451.47 L655.09,449.93 L655.53,448.39 L655.96,446.86 L656.40,445.32 L656.84,443.78 L657.29,442.24 L657.74,440.70 L658.19,439.16 L658.65,437.62 L659.11,436.08 L659.57,434.54 L660.04,433.00 L660.51,431.47 L660.99,429.93 L661.47,428.39 L661.95,426.85 L662.44,425.31 L662.93,423.77 L663.43,422.23 L663.93,420.69 L664.43,419.15 L664.94,417.61 L665.46,416.07 L665.97,414.54 L666.49,413.00 L667.02,411.46 L667.55,409.92 L668.08,408.38 L668.62,406.84 L669.16,405.30 L669.71,403.76 L670.26,402.22 L670.82,400.69 L671.38,399.15 L671.94,397.61 L672.51,396.07 L673.09,394.53 L673.67,392.99 L674.25,391.45 L674.84,389.91 L675.43,388.37 L676.03,386.83 L676.63,385.30 L677.24,383.76 L677.85,382.22 L678.47,380.68 L679.09,379.14 L679.72,377.60 L680.35,376.06 L680.98,374.52 L681.63,372.98 L682.27,371.44 L682.93,369.90 L683.58,368.37 L684.25,366.83 L684.91,365.29 L685.59,363.75 L686.26,362.21 L686.95,360.67 L687.64,359.13 L688.33,357.59 L689.03,356.05 L689.73,354.51 L690.44,352.98 L691.16,351.44 L691.88,349.90 L692.61,348.36 L693.34,346.82 L694.08,345.28 L694.82,343.74 L695.57,342.20 L696.32,340.66 L697.08,339.12 L697.85,337.59 L698.62,336.05 L699.40,334.51 L700.18,332.97 L700.97,331.43 L701.77,329.89 L702.57,328.35 L703.38,326.81 L704.19,325.27 L705.01,323.74 L705.84,322.20 L706.67,320.66 L707.51,319.12 L708.35,317.58 L709.20,316.04 L710.06,314.50 L710.92,312.96 L711.79,311.42 L712.66,309.88 L713.55,308.35 L714.43,306.81 L715.33,305.27 L716.23,303.73 L717.14,302.19 L718.05,300.65 L718.97,299.11 L719.90,297.57 L720.84,296.03 L721.78,294.49 L722.73,292.95 L723.68,291.42 L724.64,289.88 L725.61,288.34 L726.59,286.80 L727.57,285.26 L728.56,283.72 L729.56,282.18 L730.56,280.64 L731.58,279.10 L732.60,277.56 L733.62,276.03 L734.66,274.49 L735.70,272.95 L736.75,271.41 L737.80,269.87 L738.87,268.33 L739.94,266.79 L741.02,265.25 L742.11,263.71 L743.20,262.18 L744.31,260.64 L745.42,259.10 L746.54,257.56 L747.67,256.02 L748.80,254.48 L749.95,252.94 L751.10,251.40 L752.26,249.86 L753.43,248.32 L754.61,246.78 L755.80,245.25 L757.00,243.71 L758.20,242.17 L759.42,240.63 L760.64,239.09 L761.88,237.55 L763.12,236.01 L764.37,234.47 L765.63,232.93 L766.91,231.39 L768.19,229.86 L769.48,228.32 L770.78,226.78 L772.09,225.24 L773.42,223.70 L774.75,222.16 L776.09,220.62 L777.45,219.08 L778.81,217.54 L780.19,216.00 L781.58,214.47 L782.98,212.93 L784.39,211.39 L785.81,209.85 L787.25,208.31 L788.69,206.77 L790.15,205.23 L791.63,203.69 L793.11,202.15 L794.61,200.62 L796.12,199.08 L797.65,197.54 L799.19,196.00 L800.74,194.46 L802.31,192.92 L803.89,191.38 L805.48,189.84 L807.10,188.30 L808.72,186.76 L810.37,185.23 L812.02,183.69 L813.70,182.15 L815.39,180.61 L817.10,179.07 L818.83,177.53 L820.57,175.99 L822.33,174.45 L824.12,172.91 L825.92,171.37 L827.74,169.84 L829.58,168.30 L831.44,166.76 L833.32,165.22 L835.22,163.68 L837.14,162.14 L839.09,160.60 L841.06,159.06 L843.06,157.52 L845.07,155.98 L847.12,154.44 L849.19,152.91 L851.28,151.37 L853.40,149.83 L855.55,148.29 L857.73,146.75 L859.94,145.21 L862.18,143.67 L864.44,142.13 L866.74,140.59 L869.08,139.06 L871.45,137.52 L873.85,135.98 L876.29,134.44 L878.76,132.90 L881.28,131.36 L883.83,129.82 L886.42,128.28 L889.06,126.74 L891.74,125.20 L894.46,123.67 L897.23,122.13 L900.05,120.59 L902.92,119.05 L905.84,117.51 L908.82,115.97 L911.85,114.43 L914.93,112.89 L918.08,111.35 L921.28,109.81 L924.56,108.28 L927.89,106.74 L931.30,105.20 L934.78,103.66 L938.33,102.12 L941.96,100.58 L945.67,99.04 L949.47,97.50 L953.35,95.96 L957.33,94.42 L961.40,92.89 L965.57,91.35 L969.84,89.81 L974.22,88.27 L978.72,86.73 L983.33,85.19 L988.07,83.65 L992.94,82.11 L997.94,80.57 L1003.09,79.03 L1008.40,77.50 L1013.85,75.96 L1019.48,74.42 L1025.28,72.88 L1031.27,71.34 L1037.45,69.80" stroke="#e8a242" stroke-width="2.3" fill="none" stroke-linejoin="round" stroke-linecap="round"/>
<path d="M636.50,531.50 L636.97,529.96 L637.45,528.42 L637.93,526.88 L638.41,525.34 L638.89,523.80 L639.37,522.27 L639.86,520.73 L640.34,519.19 L640.83,517.65 L641.33,516.11 L641.82,514.57 L642.32,513.03 L642.83,511.49 L643.34,509.95 L643.87,508.42 L644.39,506.88 L644.92,505.34 L645.45,503.80 L645.99,502.26 L646.53,500.72 L647.07,499.18 L647.62,497.64 L648.17,496.10 L648.73,494.56 L649.29,493.02 L649.85,491.49 L650.42,489.95 L650.99,488.41 L651.57,486.87 L652.15,485.33 L652.73,483.79 L653.32,482.25 L653.91,480.71 L654.51,479.17 L655.10,477.63 L655.71,476.10 L656.31,474.56 L656.92,473.02 L657.53,471.48 L658.15,469.94 L658.77,468.40 L659.39,466.86 L660.02,465.32 L660.65,463.78 L661.29,462.25 L661.92,460.71 L662.56,459.17 L663.21,457.63 L663.86,456.09 L664.51,454.55 L665.16,453.01 L665.82,451.47 L666.49,449.93 L667.15,448.39 L667.82,446.86 L668.49,445.32 L669.17,443.78 L669.85,442.24 L670.53,440.70 L671.21,439.16 L671.90,437.62 L672.60,436.08 L673.29,434.54 L673.99,433.00 L674.69,431.47 L675.40,429.93 L676.11,428.39 L676.82,426.85 L677.54,425.31 L678.25,423.77 L678.98,422.23 L679.70,420.69 L680.43,419.15 L681.16,417.61 L681.90,416.07 L682.64,414.54 L683.38,413.00 L684.13,411.46 L684.87,409.92 L685.63,408.38 L686.38,406.84 L687.14,405.30 L687.90,403.76 L688.67,402.22 L689.44,400.69 L690.21,399.15 L690.98,397.61 L691.76,396.07 L692.55,394.53 L693.33,392.99 L694.12,391.45 L694.91,389.91 L695.71,388.37 L696.51,386.83 L697.31,385.30 L698.12,383.76 L698.93,382.22 L699.74,380.68 L700.56,379.14 L701.38,377.60 L702.20,376.06 L703.03,374.52 L703.86,372.98 L704.70,371.44 L705.54,369.90 L706.38,368.37 L707.23,366.83 L708.08,365.29 L708.93,363.75 L709.79,362.21 L710.65,360.67 L711.52,359.13 L712.39,357.59 L713.26,356.05 L714.14,354.51 L715.02,352.98 L715.90,351.44 L716.79,349.90 L717.69,348.36 L718.59,346.82 L719.49,345.28 L720.39,343.74 L721.31,342.20 L722.22,340.66 L723.14,339.12 L724.06,337.59 L724.99,336.05 L725.93,334.51 L726.86,332.97 L727.81,331.43 L728.75,329.89 L729.70,328.35 L730.66,326.81 L731.62,325.27 L732.59,323.74 L733.56,322.20 L734.54,320.66 L735.52,319.12 L736.50,317.58 L737.50,316.04 L738.49,314.50 L739.49,312.96 L740.50,311.42 L741.52,309.88 L742.53,308.35 L743.56,306.81 L744.59,305.27 L745.62,303.73 L746.66,302.19 L747.71,300.65 L748.76,299.11 L749.82,297.57 L750.89,296.03 L751.96,294.49 L753.04,292.95 L754.12,291.42 L755.21,289.88 L756.31,288.34 L757.41,286.80 L758.52,285.26 L759.64,283.72 L760.76,282.18 L761.89,280.64 L763.03,279.10 L764.17,277.56 L765.32,276.03 L766.48,274.49 L767.64,272.95 L768.82,271.41 L770.00,269.87 L771.19,268.33 L772.38,266.79 L773.59,265.25 L774.80,263.71 L776.02,262.18 L777.25,260.64 L778.48,259.10 L779.73,257.56 L780.98,256.02 L782.24,254.48 L783.51,252.94 L784.79,251.40 L786.08,249.86 L787.38,248.32 L788.68,246.78 L790.00,245.25 L791.32,243.71 L792.65,242.17 L794.00,240.63 L795.35,239.09 L796.71,237.55 L798.09,236.01 L799.47,234.47 L800.86,232.93 L802.27,231.39 L803.68,229.86 L805.11,228.32 L806.54,226.78 L807.99,225.24 L809.45,223.70 L810.91,222.16 L812.39,220.62 L813.88,219.08 L815.39,217.54 L816.90,216.00 L818.43,214.47 L819.96,212.93 L821.51,211.39 L823.08,209.85 L824.65,208.31 L826.24,206.77 L827.84,205.23 L829.45,203.69 L831.08,202.15 L832.72,200.62 L834.37,199.08 L836.03,197.54 L837.71,196.00 L839.40,194.46 L841.11,192.92 L842.83,191.38 L844.57,189.84 L846.31,188.30 L848.08,186.76 L849.86,185.23 L851.65,183.69 L853.46,182.15 L855.28,180.61 L857.12,179.07 L858.97,177.53 L860.84,175.99 L862.73,174.45 L864.63,172.91 L866.54,171.37 L868.48,169.84 L870.42,168.30 L872.39,166.76 L874.37,165.22 L876.37,163.68 L878.39,162.14 L880.42,160.60 L882.47,159.06 L884.54,157.52 L886.62,155.98 L888.73,154.44 L890.85,152.91 L892.99,151.37 L895.14,149.83 L897.32,148.29 L899.51,146.75 L901.72,145.21 L903.95,143.67 L906.20,142.13 L908.47,140.59 L910.76,139.06 L913.06,137.52 L915.39,135.98 L917.73,134.44 L920.10,132.90 L922.48,131.36 L924.88,129.82 L927.31,128.28 L929.75,126.74 L932.21,125.20 L934.69,123.67 L937.20,122.13 L939.72,120.59 L942.26,119.05 L944.82,117.51 L947.41,115.97 L950.01,114.43 L952.63,112.89 L955.28,111.35 L957.94,109.81 L960.63,108.28 L963.33,106.74 L966.06,105.20 L968.80,103.66 L971.57,102.12 L974.35,100.58 L977.16,99.04 L979.99,97.50 L982.83,95.96 L985.70,94.42 L988.58,92.89 L991.49,91.35 L994.42,89.81 L997.36,88.27 L1000.33,86.73 L1003.31,85.19 L1006.31,83.65 L1009.33,82.11 L1012.37,80.57 L1015.43,79.03 L1018.51,77.50 L1021.60,75.96 L1024.71,74.42 L1027.84,72.88 L1030.99,71.34 L1034.15,69.80" stroke="#34464b" stroke-width="2.3" fill="none" stroke-linejoin="round" stroke-linecap="round"/>
<path d="M636.50,531.50 L636.52,529.96 L636.54,528.42 L636.56,526.88 L636.59,525.34 L636.61,523.80 L636.63,522.27 L636.65,520.73 L636.67,519.19 L636.70,517.65 L636.72,516.11 L636.74,514.57 L636.76,513.03 L636.79,511.49 L636.82,509.95 L636.85,508.42 L636.89,506.88 L636.92,505.34 L636.96,503.80 L636.99,502.26 L637.03,500.72 L637.07,499.18 L637.11,497.64 L637.16,496.10 L637.20,494.56 L637.24,493.02 L637.29,491.49 L637.34,489.95 L637.39,488.41 L637.44,486.87 L637.49,485.33 L637.55,483.79 L637.61,482.25 L637.66,480.71 L637.72,479.17 L637.79,477.63 L637.85,476.10 L637.91,474.56 L637.98,473.02 L638.05,471.48 L638.12,469.94 L638.19,468.40 L638.27,466.86 L638.34,465.32 L638.42,463.78 L638.50,462.25 L638.58,460.71 L638.67,459.17 L638.75,457.63 L638.84,456.09 L638.93,454.55 L639.02,453.01 L639.11,451.47 L639.21,449.93 L639.31,448.39 L639.41,446.86 L639.51,445.32 L639.61,443.78 L639.72,442.24 L639.83,440.70 L639.94,439.16 L640.05,437.62 L640.16,436.08 L640.28,434.54 L640.40,433.00 L640.52,431.47 L640.64,429.93 L640.76,428.39 L640.89,426.85 L641.02,425.31 L641.15,423.77 L641.28,422.23 L641.42,420.69 L641.56,419.15 L641.70,417.61 L641.84,416.07 L641.98,414.54 L642.13,413.00 L642.27,411.46 L642.42,409.92 L642.58,408.38 L642.73,406.84 L642.89,405.30 L643.05,403.76 L643.21,402.22 L643.37,400.69 L643.53,399.15 L643.70,397.61 L643.87,396.07 L644.04,394.53 L644.21,392.99 L644.39,391.45 L644.57,389.91 L644.75,388.37 L644.93,386.83 L645.11,385.30 L645.30,383.76 L645.48,382.22 L645.67,380.68 L645.86,379.14 L646.06,377.60 L646.25,376.06 L646.45,374.52 L646.65,372.98 L646.85,371.44 L647.06,369.90 L647.26,368.37 L647.47,366.83 L647.68,365.29 L647.89,363.75 L648.10,362.21 L648.32,360.67 L648.54,359.13 L648.76,357.59 L648.98,356.05 L649.20,354.51 L649.43,352.98 L649.66,351.44 L649.89,349.90 L650.12,348.36 L650.35,346.82 L650.59,345.28 L650.82,343.74 L651.06,342.20 L651.31,340.66 L651.55,339.12 L651.80,337.59 L652.04,336.05 L652.29,334.51 L652.55,332.97 L652.80,331.43 L653.06,329.89 L653.32,328.35 L653.58,326.81 L653.84,325.27 L654.10,323.74 L654.37,322.20 L654.64,320.66 L654.91,319.12 L655.19,317.58 L655.46,316.04 L655.74,314.50 L656.02,312.96 L656.31,311.42 L656.59,309.88 L656.88,308.35 L657.17,306.81 L657.47,305.27 L657.76,303.73 L658.06,302.19 L658.36,300.65 L658.67,299.11 L658.97,297.57 L659.28,296.03 L659.59,294.49 L659.91,292.95 L660.23,291.42 L660.55,289.88 L660.87,288.34 L661.20,286.80 L661.53,285.26 L661.87,283.72 L662.20,282.18 L662.54,280.64 L662.89,279.10 L663.24,277.56 L663.59,276.03 L663.94,274.49 L664.30,272.95 L664.67,271.41 L665.03,269.87 L665.40,268.33 L665.78,266.79 L666.16,265.25 L666.54,263.71 L666.93,262.18 L667.33,260.64 L667.73,259.10 L668.13,257.56 L668.54,256.02 L668.95,254.48 L669.37,252.94 L669.79,251.40 L670.22,249.86 L670.66,248.32 L671.10,246.78 L671.55,245.25 L672.01,243.71 L672.47,242.17 L672.93,240.63 L673.41,239.09 L673.89,237.55 L674.38,236.01 L674.88,234.47 L675.38,232.93 L675.89,231.39 L676.41,229.86 L676.94,228.32 L677.48,226.78 L678.02,225.24 L678.58,223.70 L679.14,222.16 L679.72,220.62 L680.30,219.08 L680.90,217.54 L681.50,216.00 L682.12,214.47 L682.75,212.93 L683.39,211.39 L684.04,209.85 L684.71,208.31 L685.39,206.77 L686.08,205.23 L686.78,203.69 L687.50,202.15 L688.24,200.62 L688.99,199.08 L689.75,197.54 L690.53,196.00 L691.33,194.46 L692.15,192.92 L692.98,191.38 L693.84,189.84 L694.71,188.30 L695.60,186.76 L696.51,185.23 L697.45,183.69 L698.41,182.15 L699.39,180.61 L700.39,179.07 L701.42,177.53 L702.47,175.99 L703.56,174.45 L704.66,172.91 L705.80,171.37 L706.97,169.84 L708.17,168.30 L709.40,166.76 L710.67,165.22 L711.97,163.68 L713.30,162.14 L714.68,160.60 L716.09,159.06 L717.54,157.52 L719.04,155.98 L720.58,154.44 L722.17,152.91 L723.80,151.37 L725.49,149.83 L727.23,148.29 L729.02,146.75 L730.87,145.21 L732.78,143.67 L734.76,142.13 L736.79,140.59 L738.90,139.06 L741.08,137.52 L743.33,135.98 L745.66,134.44 L748.08,132.90 L750.58,131.36 L753.17,129.82 L755.86,128.28 L758.65,126.74 L761.54,125.20 L764.54,123.67 L767.67,122.13 L770.91,120.59 L774.28,119.05 L777.80,117.51 L781.45,115.97 L785.26,114.43 L789.23,112.89 L793.37,111.35 L797.70,109.81 L802.21,108.28 L806.94,106.74 L811.87,105.20 L817.04,103.66 L822.46,102.12 L828.13,100.58 L834.09,99.04 L840.34,97.50 L846.92,95.96 L853.83,94.42 L861.12,92.89 L868.79,91.35 L876.89,89.81 L885.45,88.27 L894.50,86.73 L904.07,85.19 L914.23,83.65 L925.00,82.11 L936.45,80.57 L948.64,79.03 L961.63,77.50 L975.49,75.96 L990.32,74.42 L1006.20,72.88 L1023.25,71.34 L1041.58,69.80" stroke="#22a6d8" stroke-width="2.3" fill="none" stroke-linejoin="round" stroke-linecap="round"/>
<rect x="849.3" y="378.7" width="198.5" height="123.3" fill="#fff" stroke="#5e5e5e" stroke-width="1.4"/>
<text x="893.0999999999999" y="401.5" font-size="16.5" textLength="62.6" lengthAdjust="spacingAndGlyphs">Modality</text>
<text x="988.8" y="401.5" font-size="16.5" textLength="30.6" lengthAdjust="spacingAndGlyphs">AUC</text>
<line x1="859.3" y1="418.10" x2="887.9" y2="418.10" stroke="#34464b" stroke-width="2.3"/>
<text x="893.0999999999999" y="424.00" font-size="16.5" textLength="74.7" lengthAdjust="spacingAndGlyphs">PD-L1 IHC</text>
<text x="988.8" y="424.00" font-size="16.5" textLength="43.5" lengthAdjust="spacingAndGlyphs">0.657</text>
<line x1="859.3" y1="440.30" x2="887.9" y2="440.30" stroke="#e8a242" stroke-width="2.3"/>
<text x="893.0999999999999" y="446.20" font-size="16.5" textLength="79.5" lengthAdjust="spacingAndGlyphs">TMB (DNA)</text>
<text x="988.8" y="446.20" font-size="16.5" textLength="43.5" lengthAdjust="spacingAndGlyphs">0.710</text>
<line x1="859.3" y1="462.50" x2="887.9" y2="462.50" stroke="#acaca4" stroke-width="2.3"/>
<text x="893.0999999999999" y="468.40" font-size="16.5" textLength="77" lengthAdjust="spacingAndGlyphs">GEP (RNA)</text>
<text x="988.8" y="468.40" font-size="16.5" textLength="43.5" lengthAdjust="spacingAndGlyphs">0.687</text>
<line x1="859.3" y1="484.70" x2="887.9" y2="484.70" stroke="#22a6d8" stroke-width="2.3"/>
<text x="893.0999999999999" y="490.60" font-size="16.5" textLength="59.6" lengthAdjust="spacingAndGlyphs">mIHC/IF</text>
<text x="988.8" y="490.60" font-size="16.5" textLength="43.5" lengthAdjust="spacingAndGlyphs">0.872</text><text x="1033.3" y="485.00" font-size="11.5">a</text>
<text x="625.3" y="537.50" font-size="16.5" text-anchor="end">0</text>
<text x="636.50" y="554.8" font-size="16.5" text-anchor="middle">0</text>
<text x="625.3" y="491.30" font-size="16.5" text-anchor="end">0.1</text>
<text x="677.75" y="554.8" font-size="16.5" text-anchor="middle">0.1</text>
<text x="625.3" y="445.10" font-size="16.5" text-anchor="end">0.2</text>
<text x="719.00" y="554.8" font-size="16.5" text-anchor="middle">0.2</text>
<text x="625.3" y="398.90" font-size="16.5" text-anchor="end">0.3</text>
<text x="760.25" y="554.8" font-size="16.5" text-anchor="middle">0.3</text>
<text x="625.3" y="352.70" font-size="16.5" text-anchor="end">0.4</text>
<text x="801.50" y="554.8" font-size="16.5" text-anchor="middle">0.4</text>
<text x="625.3" y="306.50" font-size="16.5" text-anchor="end">0.5</text>
<text x="842.75" y="554.8" font-size="16.5" text-anchor="middle">0.5</text>
<text x="625.3" y="260.30" font-size="16.5" text-anchor="end">0.6</text>
<text x="884.00" y="554.8" font-size="16.5" text-anchor="middle">0.6</text>
<text x="625.3" y="214.10" font-size="16.5" text-anchor="end">0.7</text>
<text x="925.25" y="554.8" font-size="16.5" text-anchor="middle">0.7</text>
<text x="625.3" y="167.90" font-size="16.5" text-anchor="end">0.8</text>
<text x="966.50" y="554.8" font-size="16.5" text-anchor="middle">0.8</text>
<text x="625.3" y="121.70" font-size="16.5" text-anchor="end">0.9</text>
<text x="1007.75" y="554.8" font-size="16.5" text-anchor="middle">0.9</text>
<text x="625.3" y="75.50" font-size="16.5" text-anchor="end">1.0</text>
<text x="1049.00" y="554.8" font-size="16.5" text-anchor="middle">1.0</text>
<text x="0" y="0" font-size="18" text-anchor="middle" textLength="241.2" lengthAdjust="spacingAndGlyphs" transform="translate(586.5,298.75) rotate(-90)">Sensitivity (True-Positive Rate)</text>
<text x="708.1" y="587.8" font-size="18" textLength="268.0" lengthAdjust="spacingAndGlyphs">1 -Specificity (False-Positive Rate)</text>
<rect x="570" y="16.3" width="25.8" height="25.2" fill="none" stroke="#4a4a4a" stroke-width="1.4"/>
<text transform="translate(583.20,34.7) scale(0.84,1)" x="0" y="0" font-size="16.2" text-anchor="middle" font-weight="bold" fill="#262626" style="stroke:#262626;stroke-width:0.6px">C</text>
<text x="605.6" y="34.9" font-size="17.5" textLength="93.7" lengthAdjust="spacingAndGlyphs">Unweighted</text>
</g></svg></body></html>
